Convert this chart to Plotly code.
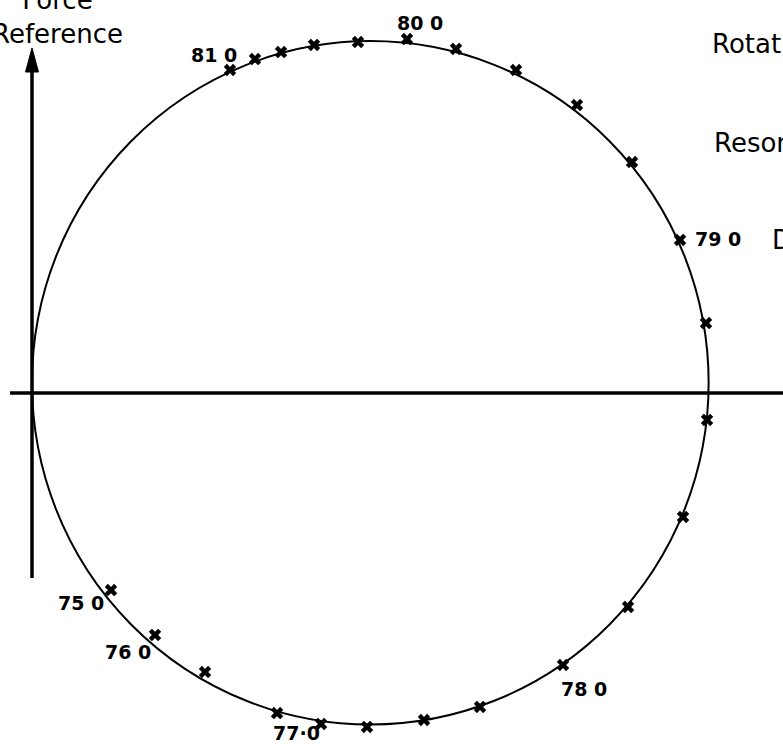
import plotly.graph_objects as go

# Response locus: measured points (real, imaginary) against frequency
freq = [75.0, 76.0, 76.5, 77.0, 77.2, 77.4, 77.6, 77.8, 78.0, 78.2, 78.4, 78.6,
        78.8, 79.0, 79.2, 79.4, 79.6, 79.8, 80.0, 80.2, 80.4, 80.6, 80.8, 81.0]
real = [1.165, 1.814, 2.552, 3.614, 4.263, 4.941, 5.782, 6.608, 7.832, 8.791,
        9.602, 9.956, 9.941, 9.558, 8.850, 8.038, 7.139, 6.254, 5.531, 4.808,
        4.159, 3.673, 3.289, 2.920]
imag = [-2.906, -3.569, -4.115, -4.720, -4.882, -4.926, -4.823, -4.631, -4.012,
        -3.156, -1.829, -0.398, 1.032, 2.257, 3.407, 4.248, 4.764, 5.074, 5.221,
        5.177, 5.133, 5.029, 4.926, 4.764]

# Frequencies that carry a label
labelled_freq = [75.0, 76.0, 77.0, 78.0, 79.0, 80.0, 81.0]
label_text = ["75 0", "76 0", "77·0", "78 0", "79 0", "80 0", "81 0"]

# Fitted circle through the points (passes through the origin)
circle_centre = [4.99, 0.15]
circle_radii = [4.99, 5.04]

W, H = 783, 744
PX = 67.8                      # pixels per unit, same on both axes
X0, Y0 = 32, 393               # origin position on the page
x_range = [-X0 / PX, (W - X0) / PX]
y_range = [-(H - Y0) / PX, Y0 / PX]

FONT = "DejaVu Sans"
INK = "#000000"

fig = go.Figure()

fig.add_trace(go.Scatter(
    x=real, y=imag, mode="markers",
    marker=dict(symbol="x", size=11, color=INK, line=dict(width=0)),
    hoverinfo="skip", showlegend=False,
))

shapes = []
# fitted circle
shapes.append(dict(
    type="circle", xref="x", yref="y",
    x0=circle_centre[0] - circle_radii[0], x1=circle_centre[0] + circle_radii[0],
    y0=circle_centre[1] - circle_radii[1], y1=circle_centre[1] + circle_radii[1],
    line=dict(color=INK, width=2),
))
# real axis
shapes.append(dict(type="line", xref="x", yref="y",
                   x0=-22 / PX, x1=x_range[1] + 1, y0=0, y1=0,
                   line=dict(color=INK, width=3.5)))
# force reference axis with arrow
tip = 345 / PX
base = 321 / PX
shapes.append(dict(type="line", xref="x", yref="y",
                   x0=0, x1=0, y0=-185 / PX, y1=base + 0.05,
                   line=dict(color=INK, width=3.5)))
hw = 6.5 / PX
shapes.append(dict(type="path", xref="x", yref="y",
                   path=f"M {-hw} {base} L 0 {tip} L {hw} {base} Z",
                   fillcolor=INK, line=dict(color=INK, width=1)))

annotations = []
offsets = {75.0: (-30, -13), 76.0: (-27, -17), 77.0: (19, -20), 78.0: (21, -24),
           79.0: (38, 1), 80.0: (13, 16), 81.0: (-16, 15)}
for f, t in zip(labelled_freq, label_text):
    i = freq.index(f)
    dx, dy = offsets[f]
    annotations.append(dict(
        x=real[i], y=imag[i], xref="x", yref="y", text=f"<b>{t}</b>",
        showarrow=False, xshift=dx, yshift=dy,
        xanchor="center", yanchor="middle",
        font=dict(family=FONT, size=19, color=INK),
    ))

# axis caption and side notes
annotations += [
    dict(x=57, y=H + 17, xref="paper", yref="paper", text="Force<br>Reference",
         showarrow=False, xanchor="center", yanchor="top", align="center",
         font=dict(family=FONT, size=26, color=INK)),
    dict(x=710, y=H - 44, xref="paper", yref="paper", text="Rotational speed",
         showarrow=False, xanchor="left", yanchor="middle",
         font=dict(family=FONT, size=26, color=INK)),
    dict(x=712, y=H - 143, xref="paper", yref="paper", text="Resonance",
         showarrow=False, xanchor="left", yanchor="middle",
         font=dict(family=FONT, size=26, color=INK)),
    dict(x=770, y=H - 240, xref="paper", yref="paper", text="Damping",
         showarrow=False, xanchor="left", yanchor="middle",
         font=dict(family=FONT, size=26, color=INK)),
]
# paper coordinates from pixels
for a in annotations:
    if a["xref"] == "paper":
        a["x"] = a["x"] / W
        a["y"] = a["y"] / H

fig.update_layout(
    width=W, height=H,
    margin=dict(l=0, r=0, t=0, b=0),
    paper_bgcolor="white", plot_bgcolor="white",
    xaxis=dict(range=x_range, visible=False, fixedrange=True),
    yaxis=dict(range=y_range, visible=False, fixedrange=True),
    shapes=shapes, annotations=annotations,
    showlegend=False,
)

fig.write_html("out.html")
